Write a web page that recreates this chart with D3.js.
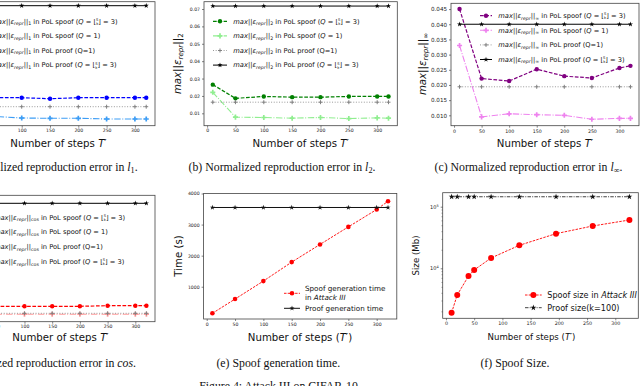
<!DOCTYPE html>
<html><head><meta charset="utf-8">
<script src="https://cdn.jsdelivr.net/npm/d3@7"></script>
<style>body{margin:0;background:#fff} svg{display:block}</style>
</head><body><svg id="c" width="640" height="386"></svg>
<script>
// ---------------- DATA ----------------
const steps = [10, 50, 100, 150, 200, 250, 300, 320];
const xTickVals = [0, 50, 100, 150, 200, 250, 300];

// (a) l1 (y axis cropped out of the picture)
const l1SpoofQ3 = [0.040, 0.028, 0.028, 0.027, 0.028, 0.028, 0.028, 0.028];
const l1SpoofQ1 = [0.025, 0.0094, 0.0077, 0.0074, 0.0074, 0.0067, 0.0067, 0.0067];
const l1ProofQ1 = [0.019, 0.019, 0.019, 0.019, 0.019, 0.019, 0.019, 0.019];
const l1ProofQ3 = [0.120, 0.120, 0.120, 0.120, 0.120, 0.120, 0.120, 0.120];

// (b) l2
const l2SpoofQ3 = [0.0265, 0.0186, 0.0197, 0.0193, 0.0193, 0.0197, 0.0197, 0.0197];
const l2SpoofQ1 = [0.0221, 0.0078, 0.0076, 0.0072, 0.0076, 0.0070, 0.0074, 0.0072];
const l2ProofQ1 = [0.0164, 0.0164, 0.0164, 0.0164, 0.0164, 0.0164, 0.0164, 0.0164];
const l2ProofQ3 = [0.0717, 0.0717, 0.0717, 0.0717, 0.0717, 0.0717, 0.0717, 0.0717];
const l2Ticks = [0.01, 0.02, 0.03, 0.04, 0.05, 0.06, 0.07];

// (c) l-infinity
const linfSpoofQ3 = [0.0450, 0.0221, 0.0213, 0.0252, 0.0229, 0.0223, 0.0256, 0.0263];
const linfSpoofQ1 = [0.0330, 0.0095, 0.0105, 0.0102, 0.0100, 0.0087, 0.0090, 0.0090];
const linfProofQ1 = [0.0194, 0.0194, 0.0194, 0.0194, 0.0194, 0.0194, 0.0194, 0.0194];
const linfProofQ3 = [0.0400, 0.0400, 0.0400, 0.0400, 0.0400, 0.0400, 0.0400, 0.0400];
const linfTicks = [0.010, 0.015, 0.020, 0.025, 0.030, 0.035, 0.040, 0.045];

// (d) cos (y axis cropped out of the picture)
const cosSpoofQ3 = [0.0200, 0.0152, 0.0154, 0.0154, 0.0154, 0.0160, 0.0160, 0.0160];
const cosSpoofQ1 = [0.0110, 0.0075, 0.0075, 0.0075, 0.0075, 0.0075, 0.0075, 0.0075];
const cosProofQ1 = [0.0084, 0.0084, 0.0084, 0.0084, 0.0084, 0.0084, 0.0084, 0.0084];
const cosProofQ3 = [0.1184, 0.1184, 0.1184, 0.1184, 0.1184, 0.1184, 0.1184, 0.1184];

// (e) generation time (s)
const spoofTime = [145, 604, 1182, 1792, 2361, 2926, 3485, 3752];
const proofTime = [3550, 3550, 3550, 3550, 3550, 3550, 3550, 3550];
const timeTicks = [1000, 2000, 3000, 4000];

// (f) size (Mb), log scale
const sizeSteps = [10, 20, 40, 50, 80, 130, 195, 260, 325];
const spoofSize = [1900, 3690, 7500, 9380, 14700, 23600, 36500, 48600, 60800];
const proofSize = [145000, 145000, 145000, 145000, 145000, 145000, 145000, 145000, 145000];
const sizeTicks = [1e4, 1e5];

// ---------------- DRAWING ----------------
const svg = d3.select("#c");
const SANS = "DejaVu Sans, sans-serif";
const SERIF = "Liberation Serif, Times New Roman, serif";

function richText(parent, segs, fs, attrs) {
  const t = parent.append("text").attr("font-size", fs).attr("font-family", attrs.family || SANS)
    .attr("fill", "#111");
  Object.entries(attrs).forEach(([k, v]) => { if (k !== "family") t.attr(k, v); });
  const off = {base: 0, sub: 0.22, sup: -0.42, top: -0.38, bot: 0.2};
  const scl = {base: 1, sub: 0.7, sup: 0.65, top: 0.55, bot: 0.55};
  let cur = 0;
  segs.forEach(s => {
    if (typeof s === "string") s = {t: s};
    const lvl = s.l || "base";
    const shift = off[lvl] * fs;
    const sp = t.append("tspan").text(s.t).attr("font-size", fs * scl[lvl]);
    if (Math.abs(shift - cur) > 1e-6) sp.attr("dy", shift - cur);
    cur = shift;
    if (s.i) sp.attr("font-style", "italic");
    if (lvl === "bot") sp.attr("dx", -0.34 * fs);
  });
  return t;
}

function errHead(norm) {
  return [{t: "max", i: true}, "||", {t: "ε", i: true}, {t: "repr", i: true, l: "sub"}, "||", {t: norm, l: "sub"}];
}
function legendSegs(norm, kind) {
  const h = errHead(norm);
  if (kind === 0) return h.concat([" in PoL spoof (", {t: "Q", i: true}, " = ⌊", {t: "S", l: "top"}, {t: "k", l: "bot"}, "⌋ = 3)"]);
  if (kind === 1) return h.concat([" in PoL spoof (", {t: "Q", i: true}, " = 1)"]);
  if (kind === 2) return h.concat([" in PoL proof (Q=1)"]);
  return h.concat([" in PoL proof (", {t: "Q", i: true}, " = ⌊", {t: "S", l: "top"}, {t: "k", l: "bot"}, "⌋ = 3)"]);
}

function marker(g, type, cx, cy, color, sz) {
  if (type === "o") {
    g.append("circle").attr("cx", cx).attr("cy", cy).attr("r", sz).attr("fill", color);
  } else if (type === "P") {
    g.append("path").attr("d", d3.symbol(d3.symbolCross, sz * sz * 1.4)()).attr("transform", `translate(${cx},${cy})`).attr("fill", color);
  } else if (type === "+") {
    g.append("path").attr("d", `M${cx - sz},${cy}H${cx + sz}M${cx},${cy - sz}V${cy + sz}`).attr("stroke", color).attr("stroke-width", 1);
  } else if (type === "*") {
    g.append("path").attr("d", d3.symbol(d3.symbolStar, sz * sz * 1.2)()).attr("transform", `translate(${cx},${cy})`).attr("fill", color);
  }
}

function panel(cfg) {
  const g = svg.append("g");
  const x = d3.scaleLinear().domain(cfg.xDomain).range([cfg.left, cfg.right]);
  const y = (cfg.log ? d3.scaleLog() : d3.scaleLinear()).domain(cfg.yDomain).range([cfg.bottom, cfg.top]);
  const xa = g.append("g").attr("transform", `translate(0,${cfg.bottom})`)
    .call(d3.axisBottom(x).tickValues(cfg.xTicks).tickSize(2).tickPadding(1.5));
  xa.select(".domain").remove();
  xa.selectAll("text").attr("font-size", cfg.tickFs).attr("font-family", SANS).attr("fill", "#222");
  xa.selectAll("line").attr("stroke", "#333").attr("stroke-width", 0.6);
  if (cfg.yTicks) {
    const ya = g.append("g").attr("transform", `translate(${cfg.left},0)`)
      .call(d3.axisLeft(y).tickValues(cfg.yTicks).tickSize(2).tickPadding(2).tickFormat(cfg.yFmt));
    ya.select(".domain").remove();
    ya.selectAll("text").attr("font-size", cfg.yTickFs || cfg.tickFs).attr("font-family", SANS).attr("fill", "#222");
    ya.selectAll("line").attr("stroke", "#333").attr("stroke-width", 0.6);
    if (cfg.log) {
      ya.selectAll(".tick text").each(function(d) {
        const t = d3.select(this); t.text("");
        t.append("tspan").text("10");
        t.append("tspan").attr("font-size", cfg.yTickFs * 0.7).attr("dy", -cfg.yTickFs * 0.4).text(Math.round(Math.log10(d)));
      });
      const minor = [];
      for (let e = 3; e <= 5; e++) for (let m = 2; m <= 9; m++) { const v = m * Math.pow(10, e); if (v > cfg.yDomain[0] && v < cfg.yDomain[1]) minor.push(v); }
      const ym = g.append("g").attr("transform", `translate(${cfg.left},0)`)
        .call(d3.axisLeft(y).tickValues(minor).tickSize(1.2).tickFormat(""));
      ym.select(".domain").remove();
      ym.selectAll("line").attr("stroke", "#333").attr("stroke-width", 0.5);
    }
  }
  cfg.series.forEach(s => {
    const pts = s.x.map((xv, i) => [x(xv), y(s.y[i])]);
    g.append("path").attr("d", d3.line()(pts)).attr("fill", "none").attr("stroke", s.color)
      .attr("stroke-width", s.lw).attr("stroke-dasharray", s.dash || null);
    pts.forEach(p => marker(g, s.m, p[0], p[1], s.color, s.ms));
  });
  g.append("rect").attr("x", cfg.left).attr("y", cfg.top).attr("width", cfg.right - cfg.left)
    .attr("height", cfg.bottom - cfg.top).attr("fill", "none").attr("stroke", "#444").attr("stroke-width", 0.8);
  return {g, x, y};
}

function legendRow(g, x1, x2, yy, s) {
  g.append("line").attr("x1", x1).attr("x2", x2).attr("y1", yy).attr("y2", yy).attr("stroke", s.color)
    .attr("stroke-width", s.lw).attr("stroke-dasharray", s.dash || null);
  marker(g, s.m, (x1 + x2) / 2, yy, s.color, s.ms);
}

const DASH = "3.7,1.6", DASHDOT = "6.4,1.6,1,1.6", DOT = "1,1.65";
function errSeries(vals, dark, light) {
  return [
    {x: steps, y: vals[0], color: dark, lw: 1.2, dash: DASH, m: "o", ms: 2.2},
    {x: steps, y: vals[1], color: light, lw: 1.1, dash: DASHDOT, m: "P", ms: 3.2},
    {x: steps, y: vals[2], color: "gray", lw: 0.8, dash: DOT, m: "+", ms: 2},
    {x: steps, y: vals[3], color: "black", lw: 1, dash: null, m: "*", ms: 2.6},
  ];
}

function errPanel(cfg, vals, dark, light, norm, leg) {
  const series = errSeries(vals, dark, light);
  const p = panel(Object.assign({series, xTicks: xTickVals, xDomain: [-5.5, 335.5]}, cfg));
  series.forEach((s, i) => {
    const yy = leg.y0 + i * leg.dy;
    legendRow(p.g, leg.lx1, leg.lx2, yy, s);
    richText(p.g, legendSegs(norm, i), leg.fs, {x: leg.tx, y: yy + leg.fs * 0.35});
  });
  richText(p.g, ["Number of steps ", {t: "T", i: true}, "′"], cfg.labFs,
    {x: (cfg.left + cfg.right) / 2, y: cfg.xlabY, "text-anchor": "middle"});
  return p;
}

// (a)
errPanel({left: -38, right: 155, top: 1.7, bottom: 125.7, yDomain: [0, 0.124], tickFs: 4.6, labFs: 10.2, xlabY: 146.5},
  [l1SpoofQ3, l1SpoofQ1, l1ProofQ1, l1ProofQ3], "#0000ff", "#3d9df5", "1",
  {y0: 21.3, dy: 14.6, lx1: -33, lx2: -19, tx: -8.7, fs: 6.7});
// (b)
errPanel({left: 204, right: 397.3, top: 1.7, bottom: 125.7, yDomain: [0.00288, 0.0742], yTicks: l2Ticks,
  yFmt: d3.format(".2f"), tickFs: 4.6, labFs: 10.2, xlabY: 146.5},
  [l2SpoofQ3, l2SpoofQ1, l2ProofQ1, l2ProofQ3], "#008000", "#90ee90", "2",
  {y0: 21.3, dy: 14.6, lx1: 213, lx2: 227, tx: 233.3, fs: 6.7});
richText(svg, errHead("2"), 10.2, {"text-anchor": "middle", transform: "translate(181,63.7) rotate(-90)"});
// (c)
errPanel({left: 451, right: 639, top: 3.3, bottom: 125.7, yDomain: [0.00658, 0.0469], yTicks: linfTicks,
  yFmt: d3.format(".3f"), tickFs: 4.7, yTickFs: 5.6, labFs: 10.2, xlabY: 146.5},
  [linfSpoofQ3, linfSpoofQ1, linfProofQ1, linfProofQ3], "#800080", "#ee82ee", "∞",
  {y0: 15.7, dy: 14.6, lx1: 480, lx2: 492, tx: 498.3, fs: 6.7});
richText(svg, errHead("∞"), 10.2, {"text-anchor": "middle", transform: "translate(426,64) rotate(-90)"});
// (d)
errPanel({left: -34, right: 155, top: 195.3, bottom: 321.7, yDomain: [0, 0.1264], tickFs: 4.6, labFs: 10.2, xlabY: 340.5},
  [cosSpoofQ3, cosSpoofQ1, cosProofQ1, cosProofQ3], "#ff0000", "#ff9a9a", "cos",
  {y0: 217.3, dy: 14.8, lx1: -30, lx2: -16, tx: -6, fs: 6.7});

// (e)
{
  const sR = {x: steps, y: spoofTime, color: "#ff0000", lw: 0.9, dash: "2.5,1.2", m: "o", ms: 2.3};
  const sK = {x: steps, y: proofTime, color: "#111", lw: 1, dash: null, m: "*", ms: 2.6};
  const p = panel({left: 203.6, right: 396.8, top: 193.5, bottom: 319, xDomain: [-5.5, 335.5], yDomain: [-38, 4000],
    xTicks: xTickVals, yTicks: timeTicks, yFmt: d3.format("d"), tickFs: 4.6, series: [sR, sK]});
  legendRow(p.g, 284, 300, 293.3, sR);
  legendRow(p.g, 284, 300, 308.3, sK);
  richText(p.g, ["Spoof generation time"], 7.2, {x: 305, y: 290.8});
  richText(p.g, [" in ", {t: "Attack III", i: true}], 7.2, {x: 305, y: 299.8});
  richText(p.g, ["Proof generation time"], 7.2, {x: 305, y: 310.8});
  richText(p.g, ["Number of steps (", {t: "T", i: true}, "′)"], 10.2, {x: 300, y: 340.5, "text-anchor": "middle"});
  richText(svg, ["Time (s)"], 10.2, {"text-anchor": "middle", transform: "translate(181.5,256) rotate(-90)"});
}
// (f)
{
  const sR = {x: sizeSteps, y: spoofSize, color: "#ff0000", lw: 0.9, dash: "2.5,1.2", m: "o", ms: 3};
  const sK = {x: sizeSteps, y: proofSize, color: "#111", lw: 0.8, dash: "3.5,1.2,1,1.2", m: "*", ms: 3};
  const p = panel({left: 442.7, right: 638.3, top: 192.7, bottom: 318.3, xDomain: [-5.75, 340.75], yDomain: [1542, 168700],
    log: true, xTicks: xTickVals, yTicks: sizeTicks, yFmt: d3.format("d"), tickFs: 4.8, yTickFs: 5, series: [sR, sK]});
  legendRow(p.g, 525, 541.7, 295, sR);
  legendRow(p.g, 525, 541.7, 307.7, sK);
  richText(p.g, ["Spoof size in ", {t: "Attack III", i: true}], 8.1, {x: 547.3, y: 297.8});
  richText(p.g, ["Proof size(k=100)"], 8.1, {x: 547.3, y: 310.5});
  richText(p.g, ["Number of steps (", {t: "T", i: true}, "′)"], 8.6, {x: 531.5, y: 340, "text-anchor": "middle"});
  richText(svg, ["Size (Mb)"], 8.6, {"text-anchor": "middle", transform: "translate(419,255.5) rotate(-90)"});
}

// captions
const capFs = 11.8;
richText(svg, ["(a) Normalized reproduction error in ", {t: "l", i: true}, {t: "1", l: "sub"}, "."], capFs,
  {family: SERIF, x: 137.7, y: 170.8, "text-anchor": "end"});
richText(svg, ["(b) Normalized reproduction error in ", {t: "l", i: true}, {t: "2", l: "sub"}, "."], capFs,
  {family: SERIF, x: 282, y: 170.8, "text-anchor": "middle"});
richText(svg, ["(c) Normalized reproduction error in ", {t: "l", i: true}, {t: "∞", l: "sub"}, "."], capFs,
  {family: SERIF, x: 528.5, y: 170.8, "text-anchor": "middle"});
richText(svg, ["(d) Normalized reproduction error in ", {t: "cos", i: true}, "."], capFs,
  {family: SERIF, x: 136, y: 366.5, "text-anchor": "end"});
richText(svg, ["(e) Spoof generation time."], capFs, {family: SERIF, x: 278.3, y: 366.5, "text-anchor": "middle"});
richText(svg, ["(f) Spoof Size."], capFs, {family: SERIF, x: 515, y: 366.5, "text-anchor": "middle"});
richText(svg, ["Figure 4: Attack III on CIFAR-10"], capFs, {family: SERIF, x: 278.5, y: 389.5, "text-anchor": "middle"});
</script></body></html>
